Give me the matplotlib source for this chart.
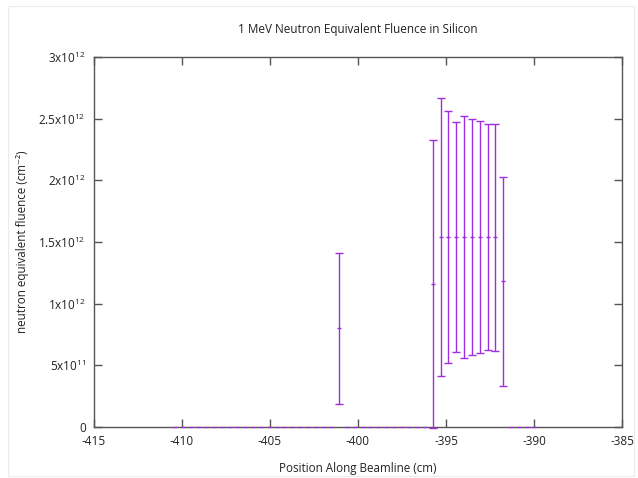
import matplotlib
matplotlib.use("Agg")
import matplotlib.pyplot as plt
from matplotlib.ticker import FuncFormatter, MultipleLocator
from matplotlib.patches import Rectangle

plt.rcParams['font.family'] = ['Open Sans', 'DejaVu Sans']
plt.rcParams['mathtext.fontset'] = 'custom'
plt.rcParams['mathtext.rm'] = 'Open Sans'
plt.rcParams['mathtext.it'] = 'Open Sans'
plt.rcParams['mathtext.bf'] = 'Open Sans'

# Positions along beamline (cm)
positions = [-410.40, -409.96, -409.51, -409.07, -408.62, -408.18, -407.74, -407.29,
             -406.85, -406.40, -405.96, -405.52, -405.07, -404.63, -404.18, -403.74,
             -403.30, -402.85, -402.41, -401.96, -401.52, -401.08, -400.63, -400.19,
             -399.74, -399.30, -398.86, -398.41, -397.97, -397.52, -397.08, -396.64,
             -396.19, -395.75, -395.30, -394.86, -394.42, -393.97, -393.53, -393.08,
             -392.64, -392.20, -391.75, -391.31, -390.86, -390.42, -389.98]
# Fluence values (cm^-2)
fluence = [0, 0, 0, 0, 0, 0, 0, 0,
           0, 0, 0, 0, 0, 0, 0, 0,
           0, 0, 0, 0, 0, 8.0e11, 0, 0,
           0, 0, 0, 0, 0, 0, 0, 0,
           0, 1.16e12, 1.54e12, 1.54e12, 1.54e12, 1.54e12, 1.54e12, 1.54e12,
           1.54e12, 1.54e12, 1.18e12, 0, 0, 0, 0]
# Uncertainties (cm^-2)
errors = [0, 0, 0, 0, 0, 0, 0, 0,
          0, 0, 0, 0, 0, 0, 0, 0,
          0, 0, 0, 0, 0, 6.1e11, 0, 0,
          0, 0, 0, 0, 0, 0, 0, 0,
          0, 1.17e12, 1.13e12, 1.02e12, 0.93e12, 0.98e12, 0.96e12, 0.94e12,
          0.915e12, 0.92e12, 0.85e12, 0, 0, 0, 0]

title = "1 MeV Neutron Equivalent Fluence in Silicon"
xlabel = "Position Along Beamline (cm)"
ylabel = "neutron equivalent fluence (cm\u207b\u00b2)"

W, H = 638, 478
fig = plt.figure(figsize=(W / 100, H / 100), dpi=100)
ax = fig.add_axes([94 / W, 1 - 427 / H, (622 - 94) / W, (427 - 57) / H])

color = '#a02ee0'

# error bars only where an uncertainty exists
bx = [p for p, e in zip(positions, errors) if e > 0]
by = [f for f, e in zip(fluence, errors) if e > 0]
be = [e for e in errors if e > 0]
ax.errorbar(bx, by, yerr=be, fmt='none', ecolor=color,
            elinewidth=1.0, capsize=3.0, capthick=1.0, clip_on=False, zorder=3)
# point markers for every position
ax.plot(positions, fluence, linestyle='none', marker='_', color=color,
        markersize=2.5, markeredgewidth=1.0, clip_on=False, zorder=4)

ax.set_xlim(-415, -385)
ax.set_ylim(0, 3e12)
ax.xaxis.set_major_locator(MultipleLocator(5))
ax.yaxis.set_major_locator(MultipleLocator(5e11))


def yfmt(v, pos):
    if v == 0:
        return "0"
    exp = 0
    m = v
    while m >= 10:
        m /= 10
        exp += 1
    ms = ("%g" % m)
    return ms + "x10$^{%d}$" % exp


ax.yaxis.set_major_formatter(FuncFormatter(yfmt))
ax.xaxis.set_major_formatter(FuncFormatter(lambda v, p: "%d" % round(v)))

for s in ax.spines.values():
    s.set_color('#555555')
    s.set_linewidth(1.0)
ax.tick_params(direction='in', length=6, width=1.0, color='#555555',
               top=True, right=True, labelsize=8.5, labelcolor='#222222', pad=6)

ax.set_title(title, fontsize=8.5, color='#222222', pad=17)
ax.set_xlabel(xlabel, fontsize=8.4, color='#222222', labelpad=10)
ax.set_ylabel(ylabel, fontsize=8.4, color='#222222', labelpad=7)

fig.patches.append(Rectangle((8 / W, 2 / H), (634 - 8) / W, (472 - 2) / H,
                             transform=fig.transFigure, fill=False,
                             edgecolor='#ececec', linewidth=0.8))

fig.savefig("out.png", dpi=100)
